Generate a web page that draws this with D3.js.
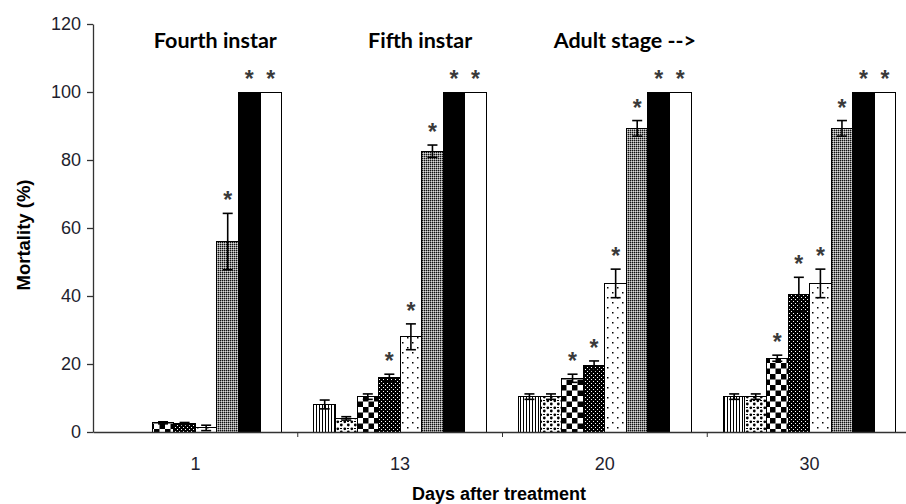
<!DOCTYPE html>
<html>
<head>
<meta charset="utf-8">
<script src="https://cdn.jsdelivr.net/npm/d3@7"></script>
<style>
  body { margin: 0; background: #fff; }
  svg { display: block; }
</style>
</head>
<body>
<script>
// days after treatment (x categories)
const days = ['1', '13', '20', '30']
// eight treatments per day (mortality %)
const day1 = [0, 0, 2.7, 2.5, 1.2, 56, 100, 100]
const day13 = [8.1, 4.0, 10.4, 15.9, 28, 82.6, 100, 100]
const day20 = [10.4, 10.4, 15.8, 19.5, 43.7, 89.3, 100, 100]
const day30 = [10.4, 10.4, 21.7, 40.5, 43.7, 89.3, 100, 100]
// standard errors
const err1 = [0, 0, 0.3, 0.3, 0.8, 8.3, 0, 0]
const err13 = [1.3, 0.5, 0.8, 1.1, 3.8, 1.8, 0, 0]
const err20 = [0.8, 0.8, 1.2, 1.4, 4.2, 2.3, 0, 0]
const err30 = [0.8, 0.8, 0.9, 5.0, 4.2, 2.3, 0, 0]
// significance markers
const sig1 = [0, 0, 0, 0, 0, 1, 1, 1]
const sig13 = [0, 0, 0, 1, 1, 1, 1, 1]
const sig20 = [0, 0, 1, 1, 1, 1, 1, 1]
const sig30 = [0, 0, 1, 1, 1, 1, 1, 1]
const yTicks = [0, 20, 40, 60, 80, 100, 120]
const stages = [
  { day: '1', text: 'Fourth instar' },
  { day: '13', text: 'Fifth instar' },
  { day: '20', text: 'Adult stage -->' }
]

const means = [day1, day13, day20, day30]
const errs = [err1, err13, err20, err30]
const sigs = [sig1, sig13, sig20, sig30]
const rows = []
days.forEach((d, gi) => {
  means[gi].forEach((v, i) => {
    rows.push({ day: d, k: i, v: v, e: errs[gi][i], s: sigs[gi][i] })
  })
})

const w = 906
const h = 504

const svg = d3.select('body').append('svg').attr('width', w).attr('height', h)

// fill patterns
const defs = svg.append('defs')
const pat = (id, pw, ph) =>
  defs.append('pattern').attr('id', id).attr('patternUnits', 'userSpaceOnUse')
    .attr('width', pw).attr('height', ph)

let p = pat('p0', 3, 3)
p.append('rect').attr('width', 3).attr('height', 3).attr('fill', '#fff')
p.append('rect').attr('x', 1).attr('width', 1).attr('height', 3).attr('fill', '#000')

p = pat('p1', 7, 7)
p.append('rect').attr('width', 7).attr('height', 7).attr('fill', '#fff')
p.append('circle').attr('cx', 1.8).attr('cy', 1.8).attr('r', 1.4).attr('fill', '#000')
p.append('circle').attr('cx', 5.3).attr('cy', 5.0).attr('r', 1.4).attr('fill', '#000')
p.append('rect').attr('x', 4).attr('y', 1).attr('width', 2).attr('height', 1).attr('fill', '#000')

p = pat('p2', 11, 11)
p.append('rect').attr('width', 11).attr('height', 11).attr('fill', '#fff')
p.append('rect').attr('width', 5.5).attr('height', 5.5).attr('fill', '#000')
p.append('rect').attr('x', 5.5).attr('y', 5.5).attr('width', 5.5).attr('height', 5.5).attr('fill', '#000')

p = pat('p3', 4, 4)
p.append('rect').attr('width', 4).attr('height', 4).attr('fill', '#000')
p.append('rect').attr('x', 1).attr('y', 1).attr('width', 1).attr('height', 1).attr('fill', '#fff')
p.append('rect').attr('x', 3).attr('y', 3).attr('width', 1).attr('height', 1).attr('fill', '#fff')

p = pat('p4', 10, 10)
p.append('rect').attr('width', 10).attr('height', 10).attr('fill', '#fff')
p.append('rect').attr('x', 2).attr('y', 2).attr('width', 1.5).attr('height', 1.5).attr('fill', '#000')
p.append('rect').attr('x', 7).attr('y', 7).attr('width', 1.5).attr('height', 1.5).attr('fill', '#000')

p = pat('p5', 2, 2)
p.append('rect').attr('width', 2).attr('height', 2).attr('fill', '#8a8a8a')
p.append('rect').attr('width', 1).attr('height', 1).attr('fill', '#111')
p.append('rect').attr('x', 1).attr('y', 1).attr('width', 1).attr('height', 1).attr('fill', '#d8d8d8')

const fills = ['url(#p0)', 'url(#p1)', 'url(#p2)', 'url(#p3)', 'url(#p4)', 'url(#p5)', '#000', '#fff']

const yScale = d3.scaleLinear().domain([0, 120]).range([432, 24])
const x0 = d3.scaleBand().domain(days).range([93, 912])
const x1 = d3
  .scaleBand()
  .domain(d3.range(8))
  .range([0, x0.bandwidth()])
  .paddingInner(0)
  .paddingOuter(0.75)

// bars
svg
  .selectAll('rect.bar')
  .data(rows.filter((d) => d.v > 0))
  .enter()
  .append('rect')
  .attr('class', 'bar')
  .attr('x', (d) => x0(d.day) + x1(d.k))
  .attr('y', (d) => yScale(d.v))
  .attr('width', x1.bandwidth())
  .attr('height', (d) => yScale(0) - yScale(d.v))
  .attr('fill', (d) => fills[d.k])
  .attr('stroke', '#000')
  .attr('stroke-width', 1)
  .attr('shape-rendering', 'crispEdges')

// error bars
const eb = svg
  .selectAll('g.err')
  .data(rows.filter((d) => d.e > 0))
  .enter()
  .append('g')
  .attr('class', 'err')
  .attr('transform', (d) => `translate(${x0(d.day) + x1(d.k) + x1.bandwidth() / 2},0)`)
  .attr('stroke', '#000')
  .attr('stroke-width', 1.6)
eb.append('line')
  .attr('y1', (d) => yScale(d.v + d.e))
  .attr('y2', (d) => yScale(Math.max(0, d.v - d.e)))
eb.append('line')
  .attr('x1', -5).attr('x2', 5)
  .attr('y1', (d) => yScale(d.v + d.e))
  .attr('y2', (d) => yScale(d.v + d.e))
eb.append('line')
  .attr('x1', -5).attr('x2', 5)
  .attr('y1', (d) => yScale(Math.max(0, d.v - d.e)))
  .attr('y2', (d) => yScale(Math.max(0, d.v - d.e)))

// significance stars
svg
  .selectAll('text.star')
  .data(rows.filter((d) => d.s))
  .enter()
  .append('text')
  .attr('class', 'star')
  .attr('x', (d) => x0(d.day) + x1(d.k) + x1.bandwidth() / 2)
  .attr('y', (d) => yScale(d.v + d.e) - 5)
  .attr('text-anchor', 'middle')
  .attr('font-family', 'Liberation Sans, Arial, sans-serif')
  .attr('font-weight', 'bold')
  .attr('font-size', 23)
  .attr('fill', '#3a3a3a')
  .text('*')

// y axis
const yAxis = d3.axisLeft(yScale).tickValues(yTicks).tickSize(6).tickSizeOuter(0).tickPadding(6)
const gy = svg.append('g').attr('transform', 'translate(93,0)').call(yAxis)
gy.selectAll('text')
  .attr('font-family', 'Liberation Sans, Arial, sans-serif')
  .attr('font-size', 18)
  .attr('fill', '#1e1e2e')

// x axis: labels at group centres, ticks between groups
const xAxis = d3.axisBottom(x0).tickSize(0).tickPadding(25)
const gx = svg.append('g').attr('transform', 'translate(0,432)').call(xAxis)
gx.selectAll('text')
  .attr('font-family', 'Liberation Sans, Arial, sans-serif')
  .attr('font-size', 18)
  .attr('fill', '#1e1e2e')
gx.selectAll('.sep')
  .data(days.slice(1))
  .enter()
  .append('line')
  .attr('class', 'sep')
  .attr('x1', (d) => x0(d))
  .attr('x2', (d) => x0(d))
  .attr('y1', 0)
  .attr('y2', 5)
  .attr('stroke', '#333')

svg.selectAll('.domain, .tick line').attr('stroke', '#333').attr('stroke-width', 1.3)

// stage annotations
svg
  .selectAll('text.stage')
  .data(stages)
  .enter()
  .append('text')
  .attr('class', 'stage')
  .attr('x', (d) => x0(d.day) + x0.bandwidth() / 2 + 20)
  .attr('y', 48)
  .attr('text-anchor', 'middle')
  .attr('font-family', 'Lato, sans-serif')
  .attr('font-weight', 'bold')
  .attr('font-size', 21.5)
  .text((d) => d.text)

// axis titles
svg
  .append('text')
  .attr('transform', 'translate(30,235) rotate(-90)')
  .attr('text-anchor', 'middle')
  .attr('font-family', 'Liberation Sans, Arial, sans-serif')
  .attr('font-weight', 'bold')
  .attr('font-size', 18.5)
  .text('Mortality (%)')

svg
  .append('text')
  .attr('x', 499)
  .attr('y', 500)
  .attr('text-anchor', 'middle')
  .attr('font-family', 'Liberation Sans, Arial, sans-serif')
  .attr('font-weight', 'bold')
  .attr('font-size', 18)
  .text('Days after treatment')
</script>
</body>
</html>
